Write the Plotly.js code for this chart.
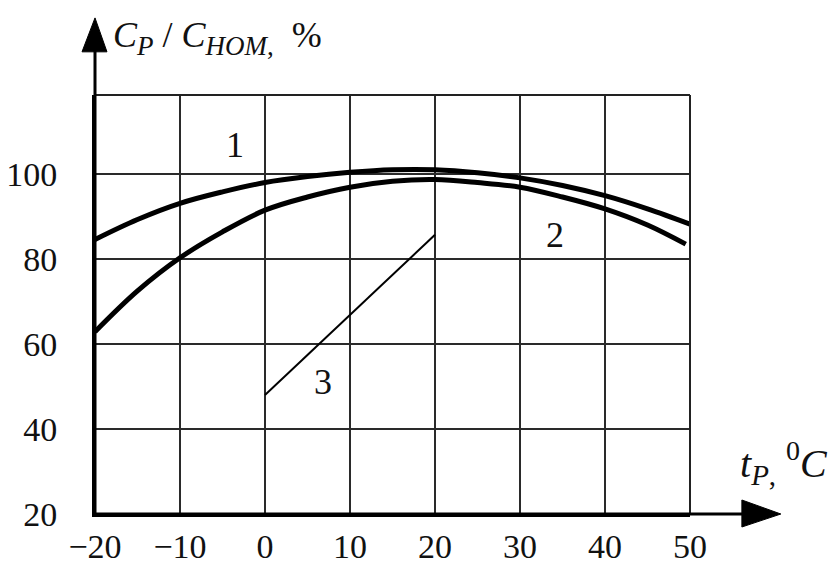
<!DOCTYPE html>
<html>
<head>
<meta charset="utf-8">
<script src="https://cdn.plot.ly/plotly-3.0.1.min.js"></script>
<style>html,body{margin:0;padding:0;background:#fff;}#chart{width:830px;height:564px;}</style>
</head>
<body>
<div id="chart"></div>
<script>
// Temperature (°C) and relative capacity (%)
const temp1 = [-20, -15, -10, -5, 0, 5, 10, 15, 20, 25, 30, 35, 40, 45, 50];
const curve1 = [84.6, 89.3, 93.1, 95.8, 98.0, 99.4, 100.4, 101.0, 101.0, 100.3, 99.1, 97.3, 94.9, 91.8, 88.2];
const temp2 = [-20, -15, -10, -5, 0, 5, 10, 15, 20, 25, 30, 35, 40, 45, 49.5];
const curve2 = [62.9, 72.5, 80.3, 86.4, 91.5, 94.6, 96.9, 98.3, 98.7, 98.0, 96.9, 94.6, 91.8, 88.0, 83.5];
const temp3 = [0, 20];
const curve3 = [48.0, 85.7];

const labelText = ['1', '2', '3'];
const labelX = [-3.5, 34.1, 6.8];
const labelY = [106.9, 85.7, 51.0];

const xTicks = [-20, -10, 0, 10, 20, 30, 40, 50];
const yTicks = [20, 40, 60, 80, 100];

const SUBY = '<span style="font-size:27px">';
const yTitle = '<i>C</i><sub>' + SUBY + '<i>P</i></span></sub> / <i>C</i><sub>' + SUBY + '<i>HOM</i>,</span></sub>\u00a0\u00a0%';
const SUBX = '<span style="font-size:29px">';
const xTitle = '<i>t</i><sub>' + SUBX + '<i>P</i>,</span></sub> <sup>0</sup><i>C</i>';

const FONT = 'Liberation Serif, Times New Roman, serif';
const INK = '#111';

const traces = [
  {x: temp1, y: curve1, mode: 'lines', line: {color: '#000', width: 5, shape: 'spline', smoothing: 1}, hoverinfo: 'skip'},
  {x: temp2, y: curve2, mode: 'lines', line: {color: '#000', width: 5, shape: 'spline', smoothing: 1}, hoverinfo: 'skip'},
  {x: temp3, y: curve3, mode: 'lines', line: {color: '#000', width: 2}, hoverinfo: 'skip'}
];

const annotations = labelText.map((t, i) => ({
  x: labelX[i], y: labelY[i], xref: 'x', yref: 'y', text: t, showarrow: false,
  font: {family: FONT, size: 36, color: INK}
}));
annotations.push({
  xref: 'paper', yref: 'paper', x: 0, y: 1, xanchor: 'left', yanchor: 'bottom',
  xshift: 16, yshift: 32, text: yTitle, showarrow: false,
  font: {family: FONT, size: 36, color: INK}
});
annotations.push({
  xref: 'paper', yref: 'paper', x: 1, y: 0, xanchor: 'right', yanchor: 'bottom',
  xshift: 140, yshift: 21, text: xTitle, showarrow: false,
  font: {family: FONT, size: 40, color: INK}
});

const shapes = [
  // frame top and right
  {type: 'line', xref: 'paper', yref: 'paper', x0: 0, x1: 1, y0: 1, y1: 1, line: {color: '#222', width: 2}},
  {type: 'line', xref: 'paper', yref: 'paper', x0: 1, x1: 1, y0: 0, y1: 1, line: {color: '#222', width: 2}},
  // axis extensions
  {type: 'line', xref: 'paper', yref: 'paper', x0: 0, x1: 0, y0: 0, y1: 1.11, line: {color: '#000', width: 3}},
  {type: 'line', xref: 'paper', yref: 'paper', x0: 0, x1: 1.095, y0: 0, y1: 0, line: {color: '#000', width: 3}},
  // arrowheads
  {type: 'path', xref: 'paper', yref: 'paper', path: 'M -0.0218 1.103 L 0 1.184 L 0.0201 1.103 Z', fillcolor: '#000', line: {color: '#000', width: 1}},
  {type: 'path', xref: 'paper', yref: 'paper', path: 'M 1.0872 0.0334 L 1.1527 0 L 1.0872 -0.031 Z', fillcolor: '#000', line: {color: '#000', width: 1}}
];

const layout = {
  width: 830, height: 564,
  margin: {l: 95, r: 140, t: 95, b: 50},
  paper_bgcolor: '#fff', plot_bgcolor: '#fff',
  showlegend: false,
  font: {family: FONT, color: INK},
  xaxis: {
    range: [-20, 50], tickvals: xTicks,
    showgrid: true, gridcolor: '#2a2a2a', gridwidth: 2, zeroline: false,
    showline: true, linecolor: '#000', linewidth: 3, ticks: '',
    ticklabelstandoff: 0, tickfont: {family: FONT, size: 34, color: INK}, fixedrange: true
  },
  yaxis: {
    range: [20, 118.6], tickvals: yTicks,
    showgrid: true, gridcolor: '#2a2a2a', gridwidth: 2, zeroline: false,
    showline: true, linecolor: '#000', linewidth: 3, ticks: '',
    ticklabelstandoff: 28, tickfont: {family: FONT, size: 34, color: INK}, fixedrange: true
  },
  annotations: annotations,
  shapes: shapes
};

Plotly.newPlot('chart', traces, layout, {staticPlot: true, displayModeBar: false});
</script>
</body>
</html>
